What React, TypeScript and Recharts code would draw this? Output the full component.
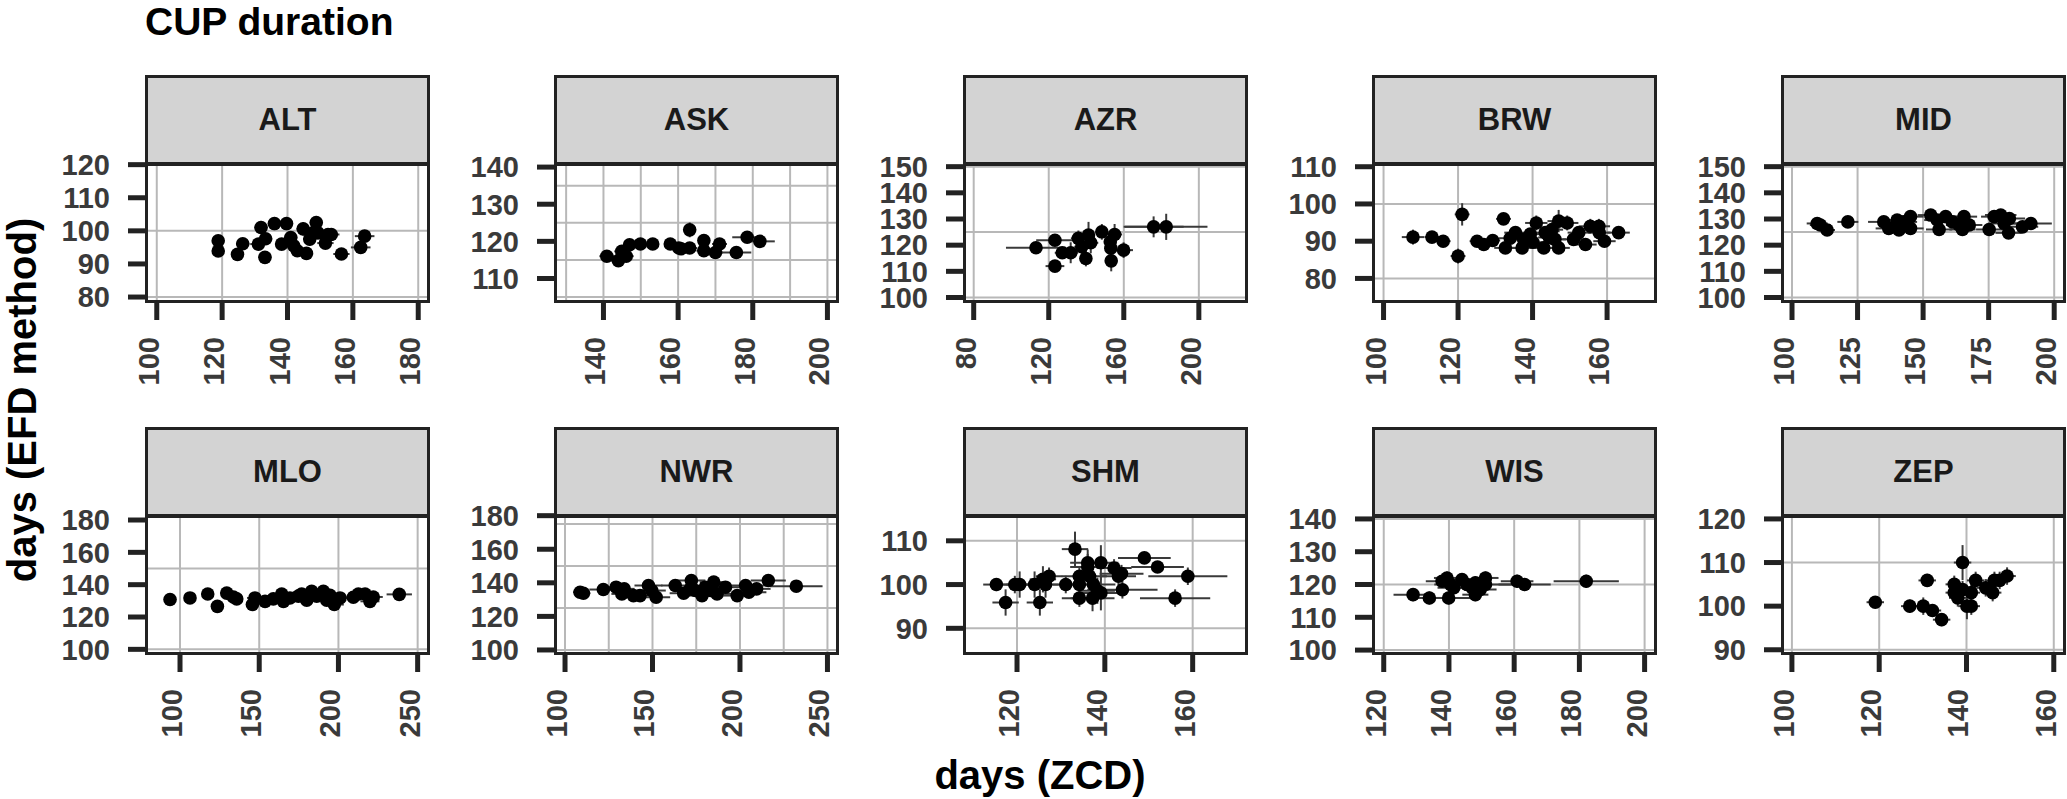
import React from 'react';
import { ScatterChart, Scatter, XAxis, YAxis, CartesianGrid, ErrorBar } from 'recharts';

const FONT = '"Liberation Sans", Arial, Helvetica, sans-serif';

const STATIONS = ['ALT', 'ASK', 'AZR', 'BRW', 'MID', 'MLO', 'NWR', 'SHM', 'WIS', 'ZEP'];

// [x (ZCD days), y (EFD days), x error, y error]
const ALT_PTS = [
  [118.8, 97.0, 1.5, 1.5], [118.8, 93.9, 1.5, 1.5], [124.7, 92.9, 2, 1.5], [126.3, 96.1, 2, 1.5],
  [131.9, 101.0, 2, 2], [131.1, 96.0, 2.5, 1.5], [133.3, 97.6, 2, 1.5], [133.1, 92.0, 2, 1.5],
  [136.0, 102.2, 2, 2], [138.2, 96.0, 2, 1.5], [139.7, 102.2, 2, 2], [141.0, 98.0, 2, 1.5],
  [141.9, 95.5, 2, 1.5], [143.0, 94.0, 2, 1.5], [144.8, 100.6, 2, 2], [145.8, 93.2, 2, 1.5],
  [146.8, 97.5, 2, 2], [147.8, 99.4, 2, 2], [148.8, 102.5, 2, 2], [149.3, 99.4, 2, 1.5],
  [151.6, 96.3, 2.5, 1.5], [152.4, 98.9, 2.5, 1.5], [153.4, 98.9, 2.5, 1.5], [156.5, 93.0, 2.5, 1.5],
  [162.4, 95.0, 3, 1.5], [163.6, 98.4, 3, 1.5],
];
const ASK_PTS = [
  [140.9, 116.0, 2, 1], [144.0, 114.8, 2, 1], [144.9, 117.3, 2, 1], [146.1, 116.0, 2, 1],
  [147.0, 119.1, 1.5, 1], [149.9, 119.3, 1.5, 1], [153.2, 119.3, 1.5, 1], [157.9, 119.3, 1.5, 1],
  [160.2, 118.2, 2, 1], [160.8, 118.0, 2, 1], [163.1, 123.1, 1.5, 2], [163.1, 118.2, 2, 1.5],
  [166.9, 120.2, 1.5, 1.5], [166.9, 117.5, 2, 1.5], [170.0, 117.0, 2, 1], [171.1, 119.3, 2, 1.5],
  [175.6, 117.0, 4, 1], [178.5, 121.1, 4, 1], [181.9, 120.0, 4, 1],
];
const AZR_PTS = [
  [113.2, 119.0, 16, 1], [123.3, 121.9, 10, 2], [123.3, 112.0, 5, 2], [127.2, 117.1, 4, 2],
  [131.7, 117.1, 4, 4], [135.8, 122.6, 4, 3], [137.6, 119.4, 4, 3], [139.8, 114.9, 3, 3],
  [141.2, 123.9, 3, 5], [142.4, 120.9, 4, 4], [148.3, 125.1, 3, 3], [152.8, 121.3, 3, 4],
  [153.1, 118.8, 3, 3], [153.3, 114.0, 3, 4], [155.1, 124.1, 4, 4], [159.9, 118.1, 5, 3],
  [175.9, 127.0, 16, 4], [182.6, 127.0, 22, 5],
];
const BRW_PTS = [
  [107.9, 91.1, 3, 2], [113.0, 91.1, 2, 1.5], [116.0, 90.0, 2, 1.5], [121.1, 97.2, 2, 3],
  [120.0, 86.0, 2, 2], [125.1, 90.0, 2, 1.5], [126.9, 89.1, 2, 1.5], [129.3, 90.2, 2, 1.5],
  [132.2, 96.0, 2, 1.5], [132.7, 88.2, 3, 1.5], [134.0, 90.8, 3, 1.5], [135.4, 92.3, 3, 1.5],
  [137.2, 88.2, 3, 1.5], [137.6, 90.5, 3, 1.5], [139.4, 91.9, 3, 1.5], [140.1, 89.7, 3, 1.5],
  [141.0, 94.9, 3, 2], [143.0, 88.2, 3, 1.5], [143.4, 92.3, 3, 1.5], [145.2, 93.1, 3, 2],
  [147.0, 95.4, 3, 3], [147.0, 88.2, 3, 1.5], [149.3, 94.9, 3, 2], [151.0, 90.5, 3, 1.5],
  [152.4, 92.3, 3, 1.5], [154.2, 89.1, 3, 1.5], [155.5, 94.0, 3, 2], [157.8, 94.0, 3, 2],
  [157.9, 92.3, 3, 1.5], [159.3, 90.0, 3, 1.5], [163.1, 92.3, 3, 1.5], [144.5, 91.0, 3, 1.5],
  [146.0, 90.5, 3, 1.5],
];
const MID_PTS = [
  [109.6, 128.3, 4, 1], [110.8, 127.7, 4, 1], [113.4, 125.8, 3, 1], [121.3, 128.9, 4, 1],
  [135.0, 128.9, 6, 1], [136.9, 126.4, 5, 1], [140.1, 129.6, 5, 1], [140.8, 125.8, 5, 1],
  [142.7, 128.9, 5, 1], [145.2, 130.9, 5, 1], [145.2, 126.4, 5, 1], [152.9, 131.5, 5, 1],
  [155.4, 129.6, 5, 1], [156.1, 126.0, 5, 1], [158.6, 130.9, 5, 1], [161.2, 128.9, 5, 1],
  [163.7, 127.7, 5, 1], [165.6, 130.9, 5, 1], [165.0, 126.0, 5, 1], [167.6, 127.7, 5, 1],
  [175.2, 126.0, 5, 1], [177.1, 130.9, 5, 1], [179.6, 131.5, 6, 1], [180.9, 128.3, 6, 1],
  [182.6, 124.7, 5, 1], [182.9, 130.2, 6, 1], [187.9, 127.0, 6, 1], [191.1, 128.3, 8, 1],
];
const MLO_PTS = [
  [93.7, 130.8, 2, 1], [106.3, 131.8, 2, 1], [117.5, 134.2, 3, 1], [123.6, 126.6, 3, 1],
  [129.5, 134.8, 3, 1], [133.7, 132.4, 4, 1], [135.8, 131.2, 4, 1], [145.7, 127.7, 4, 1],
  [147.3, 131.8, 5, 1], [153.7, 129.7, 5, 1], [158.9, 131.2, 5, 1], [164.2, 134.2, 5, 1],
  [165.3, 129.7, 5, 1], [169.4, 131.8, 5, 1], [174.7, 132.9, 5, 1], [176.8, 134.2, 5, 1],
  [180.0, 130.4, 5, 1], [183.1, 135.9, 5, 1], [186.3, 132.9, 5, 1], [190.5, 135.9, 5, 1],
  [192.6, 130.4, 5, 1], [194.7, 133.5, 6, 1], [197.4, 127.7, 6, 1], [201.0, 131.8, 6, 1],
  [209.4, 132.2, 6, 1], [212.6, 134.2, 6, 1], [216.8, 134.2, 6, 1], [219.9, 129.7, 6, 1],
  [222.0, 132.4, 6, 1], [238.4, 134.0, 8, 1],
];
const NWR_PTS = [
  [108.6, 134.4, 4, 1], [110.5, 133.8, 4, 1], [121.9, 136.0, 8, 1], [129.2, 137.4, 6, 1],
  [133.8, 136.4, 6, 1], [132.5, 133.4, 6, 1], [139.1, 132.4, 6, 1], [142.9, 132.4, 6, 1],
  [147.7, 138.4, 8, 1], [149.6, 135.4, 8, 1], [152.1, 131.4, 8, 1], [163.0, 138.4, 8, 1],
  [167.8, 133.8, 8, 1], [172.2, 141.4, 8, 1], [171.6, 136.4, 8, 1], [174.5, 135.4, 8, 1],
  [178.3, 132.4, 8, 1], [180.2, 137.4, 8, 1], [185.0, 140.4, 8, 1], [183.1, 135.4, 8, 1],
  [186.9, 133.4, 8, 1], [191.7, 137.4, 8, 1], [198.4, 132.4, 8, 1], [203.2, 138.4, 12, 1],
  [205.1, 134.4, 10, 1], [209.5, 136.4, 8, 1], [216.2, 141.4, 10, 1], [232.2, 138.0, 15, 1],
];
const SHM_PTS = [
  [115.3, 100.0, 3, 1.5], [117.4, 95.9, 3, 3], [119.5, 100.0, 3, 2], [120.6, 100.0, 3, 3],
  [124.0, 100.0, 3, 3], [125.2, 95.9, 3, 3], [125.9, 101.2, 3, 3], [127.3, 101.9, 3, 2],
  [126.5, 100.0, 3, 3], [131.1, 100.0, 3, 2], [133.2, 108.1, 3, 4], [134.2, 101.9, 4, 2],
  [134.2, 100.0, 4, 2], [134.2, 96.9, 4, 2], [136.1, 105.0, 4, 3], [136.1, 104.0, 4, 3],
  [136.5, 101.9, 4, 3], [137.4, 100.0, 5, 3], [137.2, 96.9, 5, 3], [139.1, 105.0, 4, 4],
  [139.1, 98.1, 5, 4], [138.3, 98.6, 4, 3], [142.1, 103.8, 4, 2], [143.1, 101.9, 4, 2],
  [143.8, 102.5, 5, 2], [144.0, 98.8, 8, 2], [149.0, 106.1, 6, 1], [152.0, 104.0, 6, 1],
  [158.9, 101.9, 9, 2], [156.0, 96.9, 8, 2],
];
const WIS_PTS = [
  [129.0, 116.9, 6, 2], [134.0, 115.9, 4, 2], [139.9, 115.9, 8, 2], [137.9, 121.0, 5, 2],
  [139.4, 122.0, 4, 2], [140.5, 120.0, 5, 2], [141.5, 119.0, 5, 2], [144.0, 121.5, 4, 2],
  [145.5, 120.0, 5, 2], [147.1, 119.0, 5, 2], [148.1, 116.9, 4, 2], [148.1, 120.5, 4, 2],
  [149.6, 118.5, 5, 2], [151.2, 122.0, 4, 2], [151.2, 120.0, 8, 2], [160.9, 121.0, 5, 2],
  [163.2, 120.0, 8, 2], [182.1, 121.0, 10, 2],
];
const ZEP_PTS = [
  [119.1, 100.9, 2, 1], [127.0, 100.0, 2, 1.5], [130.1, 100.0, 2, 2], [131.0, 105.9, 2, 1.5],
  [132.2, 99.0, 2, 1.5], [134.3, 96.9, 2, 1.5], [137.2, 105.0, 2, 2], [137.2, 103.1, 2, 2],
  [138.0, 101.9, 2, 2], [139.1, 110.0, 2, 4], [139.1, 103.8, 2, 2], [140.1, 100.0, 2, 3],
  [141.1, 100.0, 2, 2], [141.1, 103.1, 2, 2], [142.1, 105.9, 2, 2], [144.4, 104.2, 2, 2],
  [146.0, 103.1, 2, 2], [146.4, 105.9, 2, 2], [147.6, 105.9, 2, 2], [149.3, 106.9, 2, 2],
];

const POINTS = [ALT_PTS, ASK_PTS, AZR_PTS, BRW_PTS, MID_PTS, MLO_PTS, NWR_PTS, SHM_PTS, WIS_PTS, ZEP_PTS];

const X_TICKS = [
  [100, 120, 140, 160, 180], [140, 160, 180, 200], [80, 120, 160, 200], [100, 120, 140, 160], [100, 125, 150, 175, 200],
  [100, 150, 200, 250], [100, 150, 200, 250], [120, 140, 160], [120, 140, 160, 180, 200], [100, 120, 140, 160],
];
const Y_TICKS = [
  [80, 90, 100, 110, 120], [110, 120, 130, 140], [100, 110, 120, 130, 140, 150], [80, 90, 100, 110], [100, 110, 120, 130, 140, 150],
  [100, 120, 140, 160, 180], [100, 120, 140, 160, 180], [90, 100, 110], [100, 110, 120, 130, 140], [90, 100, 110, 120],
];
const X_DOMAINS = [
  [96.4, 183.6], [126.75, 203.1], [74.3, 226.2], [96.9, 173.4], [95.8, 204.5],
  [77.9, 257.8], [93.7, 256.6], [107.7, 172.6], [116.4, 203.8], [97.5, 162.8],
];
const Y_DOMAINS = [
  [78.2, 120.5], [103.4, 141.1], [97.9, 151.4], [73.4, 111], [97.9, 151.4],
  [96.5, 183.1], [97.0, 180.4], [83.9, 115.9], [98.5, 141.2], [88.8, 120.9],
];
const X_GRID = [
  [100, 120, 140, 160, 180], [130, 140, 150, 160, 170, 180, 190, 200], [80, 120, 160, 200], [100, 120, 140, 160], [100, 125, 150, 175, 200],
  [100, 150, 200, 250], [100, 125, 150, 175, 200, 225, 250], [120, 140, 160], [120, 140, 160, 180, 200], [100, 120, 140, 160],
];
const Y_GRID = [
  [80, 100, 120], [105, 115, 125, 135], [100, 125, 150], [80, 100], [100, 125, 150],
  [100, 150], [100, 125, 150, 175], [90, 110], [100, 120, 140], [90, 110],
];

const PANEL_W = 285;
const PANEL_H = 140;
const STRIP_H = 88;
const LEFT0 = 145;
const COL_STEP = 409;
const STRIP_TOPS = [75, 427];
const YAXIS_W = 120;
const XAXIS_H = 100;
const TOP_PAD = 20;
const TICK_FILL = '#3a3a3a';

const XTick = (props: any) => {
  const { x, y, payload } = props;
  const bx = x + 2;
  return (
    <text
      x={bx}
      y={y}
      transform={`rotate(-90, ${bx}, ${y})`}
      textAnchor="end"
      fontFamily={FONT}
      fontWeight="bold"
      fontSize={29}
      fill={TICK_FILL}
    >
      {payload.value}
    </text>
  );
};

const Dot = (props: any) => {
  const { cx, cy } = props;
  if (cx == null || cy == null) return null;
  return <circle cx={cx} cy={cy} r={6.8} fill="#000" />;
};

function Panel({ idx }: { idx: number }) {
  const name = STATIONS[idx];
  const data = POINTS[idx].map(([x, y, xe, ye]) => ({ x, y, xe, ye }));
  const col = idx % 5;
  const row = Math.floor(idx / 5);
  const left = LEFT0 + col * COL_STEP;
  const stripTop = STRIP_TOPS[row];
  const plotTop = stripTop + STRIP_H;
  return (
    <>
      <div
        style={{
          position: 'absolute',
          left,
          top: stripTop,
          width: PANEL_W,
          height: STRIP_H + 2,
          boxSizing: 'border-box',
          border: '3px solid #222',
          background: '#d3d3d3',
          display: 'flex',
          alignItems: 'center',
          justifyContent: 'center',
          fontFamily: FONT,
          fontWeight: 'bold',
          fontSize: 31,
          color: '#1a1a1a',
        }}
      >
        {name}
      </div>
      <div style={{ position: 'absolute', left: left - YAXIS_W, top: plotTop - TOP_PAD }}>
        <ScatterChart
          width={YAXIS_W + PANEL_W}
          height={TOP_PAD + PANEL_H + XAXIS_H}
          margin={{ top: TOP_PAD, right: 0, bottom: 0, left: 0 }}
        >
          <CartesianGrid
            horizontalValues={Y_GRID[idx]}
            verticalValues={X_GRID[idx]}
            stroke="#b8b8b8"
            strokeWidth={2}
          />
          <XAxis
            type="number"
            dataKey="x"
            domain={X_DOMAINS[idx]}
            ticks={X_TICKS[idx]}
            allowDataOverflow
            interval={0}
            axisLine={false}
            tickLine={{ stroke: '#222', strokeWidth: 5 }}
            tickSize={17}
            tickMargin={17}
            height={XAXIS_H}
            tick={(p: any) => <XTick {...p} />}
          />
          <YAxis
            type="number"
            dataKey="y"
            domain={Y_DOMAINS[idx]}
            ticks={Y_TICKS[idx]}
            allowDataOverflow
            interval={0}
            axisLine={false}
            tickLine={{ stroke: '#222', strokeWidth: 5 }}
            tickSize={17}
            tickMargin={18}
            width={YAXIS_W}
            tick={{ fontFamily: FONT, fontWeight: 'bold', fontSize: 29, fill: TICK_FILL }}
          />
          <Scatter data={data} isAnimationActive={false} shape={(p: any) => <Dot {...p} />}>
            <ErrorBar dataKey="xe" direction="x" width={0} stroke="#3a3a3a" strokeWidth={2} isAnimationActive={false} />
            <ErrorBar dataKey="ye" direction="y" width={0} stroke="#3a3a3a" strokeWidth={2} isAnimationActive={false} />
          </Scatter>
        </ScatterChart>
      </div>
      <div
        style={{
          position: 'absolute',
          left,
          top: plotTop,
          width: PANEL_W,
          height: PANEL_H,
          boxSizing: 'border-box',
          border: '3px solid #222',
          pointerEvents: 'none',
        }}
      />
    </>
  );
}

export default function App() {
  return (
    <div style={{ position: 'absolute', left: 0, top: 0, width: 2067, height: 799, background: '#fff', overflow: 'hidden' }}>
      <svg width={2067} height={799} style={{ position: 'absolute', left: 0, top: 0 }}>
        <text x={145} y={35} fontFamily={FONT} fontWeight="bold" fontSize={39} fill="#000">
          CUP duration
        </text>
        <text
          transform="translate(36, 400) rotate(-90)"
          textAnchor="middle"
          fontFamily={FONT}
          fontWeight="bold"
          fontSize={40}
          fill="#000"
        >
          days (EFD method)
        </text>
        <text x={1040} y={789} textAnchor="middle" fontFamily={FONT} fontWeight="bold" fontSize={40} fill="#000">
          days (ZCD)
        </text>
      </svg>
      {STATIONS.map((_, i) => (
        <Panel key={i} idx={i} />
      ))}
    </div>
  );
}
